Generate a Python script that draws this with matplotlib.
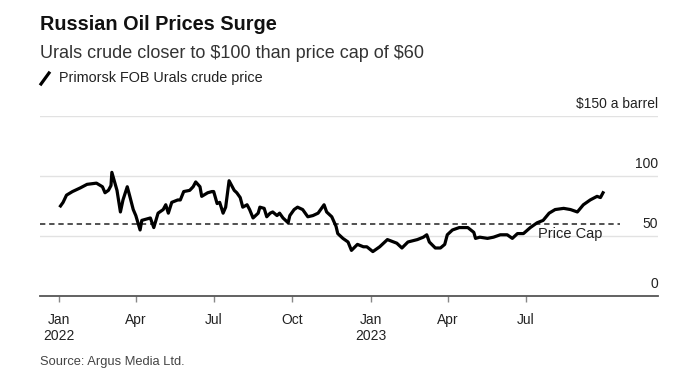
import matplotlib
matplotlib.use("Agg")
import matplotlib.pyplot as plt
from matplotlib.lines import Line2D
import pandas as pd

plt.rcParams['font.family'] = ['Liberation Sans', 'DejaVu Sans']

# Primorsk FOB Urals crude, $ a barrel
dates = [
    "2022-01-03", "2022-01-06", "2022-01-10", "2022-01-17", "2022-01-26", "2022-02-03",
    "2022-02-14", "2022-02-21", "2022-02-24", "2022-02-28", "2022-03-03", "2022-03-04",
    "2022-03-10", "2022-03-14", "2022-03-17", "2022-03-22", "2022-03-25", "2022-03-29",
    "2022-04-01", "2022-04-06", "2022-04-08", "2022-04-18", "2022-04-22", "2022-04-27",
    "2022-05-03", "2022-05-06", "2022-05-09", "2022-05-13", "2022-05-20", "2022-05-23",
    "2022-05-27", "2022-06-03", "2022-06-07", "2022-06-10", "2022-06-15", "2022-06-17",
    "2022-06-24", "2022-06-29", "2022-07-01", "2022-07-05", "2022-07-08", "2022-07-12",
    "2022-07-15", "2022-07-19", "2022-07-25", "2022-07-28", "2022-08-01", "2022-08-04",
    "2022-08-09", "2022-08-12", "2022-08-16", "2022-08-22", "2022-08-24", "2022-08-29",
    "2022-09-01", "2022-09-05", "2022-09-08", "2022-09-13", "2022-09-16", "2022-09-20",
    "2022-09-26", "2022-09-28", "2022-10-03", "2022-10-07", "2022-10-13", "2022-10-19",
    "2022-10-25", "2022-10-31", "2022-11-07", "2022-11-10", "2022-11-16", "2022-11-21",
    "2022-11-23", "2022-11-29", "2022-12-05", "2022-12-09", "2022-12-16", "2022-12-23",
    "2022-12-27", "2023-01-03", "2023-01-11", "2023-01-20", "2023-01-31", "2023-02-06",
    "2023-02-13", "2023-02-24", "2023-03-03", "2023-03-07", "2023-03-10", "2023-03-17",
    "2023-03-23", "2023-03-28", "2023-03-31", "2023-04-06", "2023-04-14", "2023-04-24",
    "2023-05-01", "2023-05-03", "2023-05-08", "2023-05-17", "2023-05-24", "2023-06-01",
    "2023-06-09", "2023-06-15", "2023-06-21", "2023-06-28", "2023-07-06", "2023-07-14",
    "2023-07-21", "2023-07-28", "2023-08-04", "2023-08-14", "2023-08-22", "2023-08-30",
    "2023-09-06", "2023-09-14", "2023-09-22", "2023-09-26", "2023-09-29",
]
prices = [
    75, 78, 84, 87, 90, 93,
    94, 91, 86, 88, 92, 103,
    88, 70, 80, 91, 83, 72,
    67, 55, 63, 65, 57, 69,
    72, 76, 69, 78, 80, 80,
    87, 88, 91, 95, 91, 83,
    86, 87, 87, 77, 78, 69,
    74, 96, 88, 86, 82, 74,
    76, 72, 65, 69, 74, 73,
    66, 69, 70, 67, 69, 65,
    61, 67, 72, 74, 72, 66,
    67, 69, 76, 70, 66, 58,
    52, 48, 45, 38, 43, 41,
    41, 37, 41, 47, 44, 40,
    45, 47, 49, 51, 45, 40,
    40, 43, 51, 55, 57, 57,
    53, 48, 49, 48, 49, 51,
    51, 48, 52, 52, 57, 61,
    63, 69, 72, 73, 72, 70,
    76, 80, 83, 82, 86,
]
price_cap = 60
cap_end = "2023-10-19"
grid_values = [50, 100, 150]
grid_labels = ["50", "100", "\\$150 a barrel"]
tick_dates = ["2022-01-01", "2022-04-01", "2022-07-01", "2022-10-01",
              "2023-01-01", "2023-04-01", "2023-07-01"]
tick_labels = ["Jan\n2022", "Apr", "Jul", "Oct", "Jan\n2023", "Apr", "Jul"]

dates = pd.to_datetime(dates)

fig = plt.figure(figsize=(6.73, 3.8), dpi=100)
ax = fig.add_axes([0.0594, 0.221, 0.918, 0.474])

ax.plot(dates, prices, color="black", lw=2.3, solid_joinstyle="round", zorder=3)

xmin, xmax = pd.Timestamp("2021-12-10"), pd.Timestamp("2023-12-02")
ax.hlines(price_cap, xmin, pd.Timestamp(cap_end), colors="#222222",
          linestyles=(0, (3.5, 2.5)), lw=1.1, zorder=2)
ax.text(pd.Timestamp("2023-07-15"), 52, "Price Cap", fontsize=10.5,
        color="#222222", va="center", ha="left", zorder=4)

ax.set_xlim(xmin, xmax)
ax.set_ylim(0, 150)

for v in grid_values:
    ax.axhline(v, color="#e2e2e2", lw=1, zorder=1)
for v, lab in zip([0] + grid_values, ["0"] + grid_labels):
    ax.text(1.0, v + 4, lab, transform=ax.get_yaxis_transform(),
            ha="right", va="bottom", fontsize=10, color="#222222")

ax.set_yticks([])
ax.set_xticks(pd.to_datetime(tick_dates))
ax.set_xticklabels(tick_labels, fontsize=10, color="#222222", ha="center")
ax.tick_params(axis="x", length=4, width=1, color="#888888", pad=8)

for side in ["top", "right", "left"]:
    ax.spines[side].set_visible(False)
ax.spines["bottom"].set_color("#555555")
ax.spines["bottom"].set_linewidth(1.3)

fig.text(40 / 673, 1 - 24 / 380, "Russian Oil Prices Surge", fontsize=14.3,
         fontweight="bold", va="center", color="#111111")
fig.text(40 / 673, 1 - 53 / 380, "Urals crude closer to \\$100 than price cap of \\$60",
         fontsize=13, va="center", color="#333333")
fig.add_artist(Line2D([41 / 673, 49 / 673], [1 - 84 / 380, 1 - 73 / 380],
                      color="black", lw=2.3))
fig.text(59 / 673, 1 - 78 / 380, "Primorsk FOB Urals crude price",
         fontsize=10.4, va="center", color="#222222")
fig.text(40 / 673, 1 - 362 / 380, "Source: Argus Media Ltd.",
         fontsize=9.3, va="center", color="#444444")

fig.savefig("out.png", dpi=100)
